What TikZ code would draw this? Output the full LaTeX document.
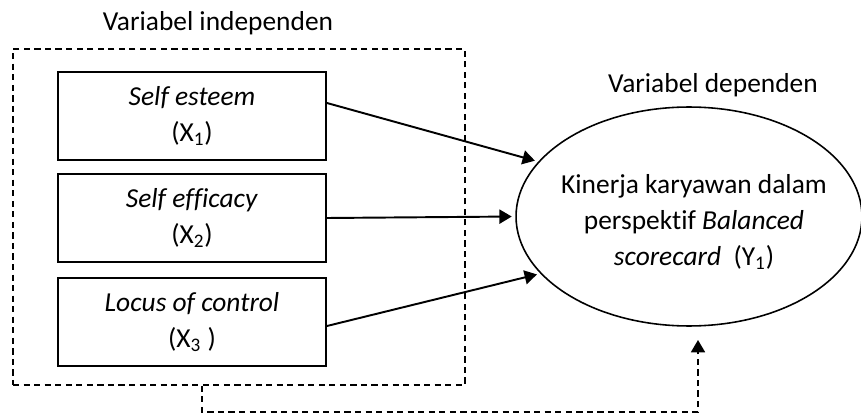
\documentclass[tikz,border=0pt]{standalone}
\usepackage{fontspec}
\setmainfont[Ligatures=NoCommon]{Carlito}
\usetikzlibrary{arrows.meta,shapes.geometric}
\begin{document}
\begin{tikzpicture}[x=0.02cm, y=-0.02cm, font=\fontsize{15.6}{20.5}\selectfont,
    varbox/.style={draw, line width=1.1pt, minimum width=5.36cm, minimum height=1.76cm, align=center, inner sep=0pt},
    tip/.style={-{Triangle[length=7pt,width=8pt]}, line width=1.1pt},
    dashline/.style={dash pattern=on 3.5pt off 2.5pt, line width=0.9pt}]
    \useasboundingbox (0,0) rectangle (861,415);
    \node[draw, dashline, minimum width=9.04cm, minimum height=6.72cm, inner sep=0pt] (indep) at (239,217) {};
    \node (lbl1) at (218,23) {Variabel independen};
    \node[varbox] (x1) at (192,116) {\textit{Self esteem}\\(X\textsubscript{1})};
    \node[varbox] (x2) at (192,218) {\textit{Self efficacy}\\(X\textsubscript{2})};
    \node[varbox] (x3) at (192,322) {\textit{Locus of control}\\(X\textsubscript{3} )};
    \node[draw, ellipse, line width=0.9pt, minimum width=6.92cm, minimum height=4.38cm, inner sep=0pt] (y) at (689,216.5) {};
    \node[align=center] (ytext) at (694,222)
        {Kinerja karyawan dalam\\perspektif \textit{Balanced}\\\textit{scorecard}\ \ (Y\textsubscript{1})};
    \node (lbl2) at (713,85) {Variabel dependen};
    \draw[tip, shorten >=2pt] (x1.east |- 0,103) -- (y.160);
    \draw[tip, shorten >=2pt] (x2.east) -- (y.west);
    \draw[tip, shorten >=2pt] (x3.east |- 0,326) -- (y.201);
    \coordinate (turn) at (202,412);
    \coordinate (up) at (698,340);
    \draw[dashline, -{Triangle[length=7pt,width=8pt]}] (indep.south -| turn) -- (turn) -- (turn -| up) -- (up);
\end{tikzpicture}
\end{document}
